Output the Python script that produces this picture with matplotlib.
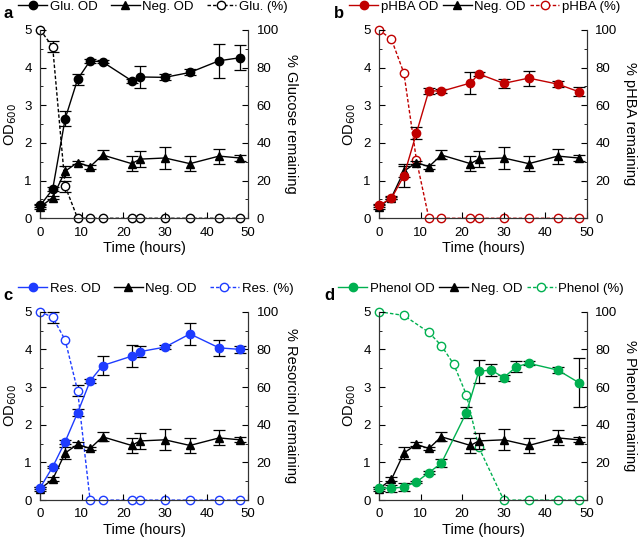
import matplotlib
matplotlib.use("Agg")
import matplotlib.pyplot as plt
from matplotlib.ticker import MultipleLocator
from matplotlib.lines import Line2D

plt.rcParams['font.family'] = ['Liberation Sans', 'DejaVu Sans']
plt.rcParams['font.size'] = 9

# shared negative control
t_neg = [0, 3, 6, 9, 12, 15, 22, 24, 30, 36, 43, 48]
neg_od = [0.30, 0.55, 1.25, 1.48, 1.37, 1.68, 1.45, 1.57, 1.60, 1.45, 1.65, 1.60]
neg_err = [0.05, 0.05, 0.15, 0.05, 0.05, 0.12, 0.20, 0.22, 0.28, 0.20, 0.20, 0.07]

# a - glucose
t_glu = [0, 3, 6, 9, 12, 15, 22, 24, 30, 36, 43, 48]
glu_od = [0.34, 0.77, 2.64, 3.69, 4.18, 4.15, 3.65, 3.75, 3.74, 3.87, 4.18, 4.26]
glu_od_err = [0.03, 0.05, 0.20, 0.15, 0.05, 0.04, 0.05, 0.30, 0.08, 0.08, 0.45, 0.33]
glu_pct = [100, 91, 17, 0, 0, 0, 0, 0, 0, 0, 0, 0]
glu_pct_err = [0, 3, 3, 0, 0, 0, 0, 0, 0, 0, 0, 0]

# b - pHBA
t_hba = [0, 3, 6, 9, 12, 15, 22, 24, 30, 36, 43, 48]
hba_od = [0.34, 0.53, 1.13, 2.26, 3.39, 3.37, 3.59, 3.83, 3.58, 3.72, 3.56, 3.36]
hba_od_err = [0.03, 0.03, 0.30, 0.15, 0.08, 0.05, 0.30, 0.06, 0.12, 0.20, 0.08, 0.12]
hba_pct = [100, 95, 77, 31, 0, 0, 0, 0, 0, 0, 0, 0]
hba_pct_err = [0, 0, 0, 0, 0, 0, 0, 0, 0, 0, 0, 0]

# c - resorcinol
t_res = [0, 3, 6, 9, 12, 15, 22, 24, 30, 36, 43, 48]
res_od = [0.33, 0.88, 1.55, 2.32, 3.16, 3.57, 3.82, 3.94, 4.06, 4.41, 4.04, 4.00]
res_od_err = [0.03, 0.03, 0.05, 0.10, 0.05, 0.25, 0.30, 0.15, 0.05, 0.30, 0.22, 0.10]
res_pct = [100, 97, 85, 58, 0, 0, 0, 0, 0, 0, 0, 0]
res_pct_err = [0, 3, 0, 3, 0, 0, 0, 0, 0, 0, 0, 0]

# d - phenol
t_phe = [0, 3, 6, 9, 12, 15, 21, 24, 27, 30, 33, 36, 43, 48]
phe_od = [0.33, 0.31, 0.35, 0.48, 0.73, 0.98, 2.32, 3.42, 3.45, 3.25, 3.54, 3.63, 3.45, 3.12]
phe_od_err = [0.03, 0.10, 0.10, 0.03, 0.04, 0.10, 0.15, 0.30, 0.15, 0.08, 0.15, 0.05, 0.08, 0.65]
t_phe_pct = [0, 6, 12, 15, 18, 21, 24, 30, 36, 43, 48]
phe_pct = [100, 98, 89, 82, 72, 56, 28, 0, 0, 0, 0]
phe_pct_err = [0, 0, 0, 0, 0, 0, 0, 0, 0, 0, 0]

red = '#C00000'
blue = '#1E3CFF'
green = '#00B050'

W, H = 638.0, 543.0
fig = plt.figure(figsize=(W / 100, H / 100), dpi=100)


def panel(rect, letter, letter_x, leg_x, colsp, col, t, od, od_err, tp, pct, pct_err,
          name, rlabel):
    ax = fig.add_axes(rect)
    ax2 = ax.twinx()
    ax.set_zorder(ax2.get_zorder() + 1)
    ax.patch.set_visible(False)
    ekw = dict(capsize=4, elinewidth=0.9, capthick=0.9, ecolor='black', clip_on=False)

    # OD of the substrate culture
    ax.errorbar(t, od, yerr=od_err, fmt='none', zorder=2, **ekw)
    ax.plot(t, od, color=col, marker='o', ms=6, lw=1, clip_on=False, zorder=4)
    # negative control
    ax.errorbar(t_neg, neg_od, yerr=neg_err, fmt='none', zorder=2, **ekw)
    ax.plot(t_neg, neg_od, color='black', marker='^', ms=6, lw=1, clip_on=False, zorder=3)
    # % remaining (only draw error bars where there is one)
    keep = [i for i, e in enumerate(pct_err) if e > 0]
    if keep:
        ax2.errorbar([tp[i] for i in keep], [pct[i] for i in keep],
                     yerr=[pct_err[i] for i in keep], fmt='none', **ekw)
    ax2.plot(tp, pct, color=col, marker='o', ms=6, lw=1, ls=(0, (2.5, 1.5)),
             mfc='white', mec=col, clip_on=False)

    ax.set_xlim(0, 50)
    ax.set_ylim(0, 5)
    ax2.set_ylim(0, 100)
    ax.xaxis.set_major_locator(MultipleLocator(10))
    ax.yaxis.set_major_locator(MultipleLocator(1))
    ax.yaxis.set_minor_locator(MultipleLocator(0.5))
    ax2.yaxis.set_major_locator(MultipleLocator(20))
    ax2.yaxis.set_minor_locator(MultipleLocator(10))
    for a in (ax, ax2):
        a.spines['top'].set_visible(False)
        a.tick_params(direction='in', which='major', length=4, labelsize=9.5, pad=6)
        a.tick_params(direction='in', which='minor', length=2.5)
        for s in a.spines.values():
            s.set_color('#333333')
    ax.set_xlabel('Time (hours)', fontsize=10.5, labelpad=2)
    ax.set_ylabel('OD$_{600}$', fontsize=10.5, labelpad=4)
    ax2.set_ylabel(rlabel, fontsize=10.5, rotation=270, labelpad=14)

    handles = [
        Line2D([], [], color=col, marker='o', ms=6, lw=1),
        Line2D([], [], color='black', marker='^', ms=6, lw=1),
        Line2D([], [], color=col, marker='o', ms=6, lw=1, ls=(0, (2.5, 1.5)),
               mfc='white', mec=col),
    ]
    top_px = (1 - rect[1] - rect[3]) * H
    ax.legend(handles, [name + ' OD', 'Neg. OD', name + ' (%)'],
              ncol=3, frameon=False, loc='center left',
              bbox_to_anchor=(leg_x / W, 1 - (top_px - 23) / H),
              bbox_transform=fig.transFigure,
              handlelength=2.2, handletextpad=0.2, columnspacing=colsp,
              fontsize=9.5, borderaxespad=0, borderpad=0)
    fig.text(letter_x / W, 1 - (top_px - 16) / H, letter,
             fontsize=12, fontweight='bold', va='center')


panel([0.063, 0.598, 0.326, 0.347], 'a', 3, 18, 1.0, 'black',
      t_glu, glu_od, glu_od_err, t_glu, glu_pct, glu_pct_err,
      'Glu.', '% Glucose remaining')
panel([0.594, 0.598, 0.326, 0.347], 'b', 334, 349, 0.35, red,
      t_hba, hba_od, hba_od_err, t_hba, hba_pct, hba_pct_err,
      'pHBA', '% pHBA remaining')
panel([0.063, 0.079, 0.326, 0.347], 'c', 3, 18, 1.0, blue,
      t_res, res_od, res_od_err, t_res, res_pct, res_pct_err,
      'Res.', '% Resorcinol remaining')
panel([0.594, 0.079, 0.326, 0.347], 'd', 324, 338, 0.35, green,
      t_phe, phe_od, phe_od_err, t_phe_pct, phe_pct, phe_pct_err,
      'Phenol', '% Phenol remaining')

fig.savefig('out.png', dpi=100)
